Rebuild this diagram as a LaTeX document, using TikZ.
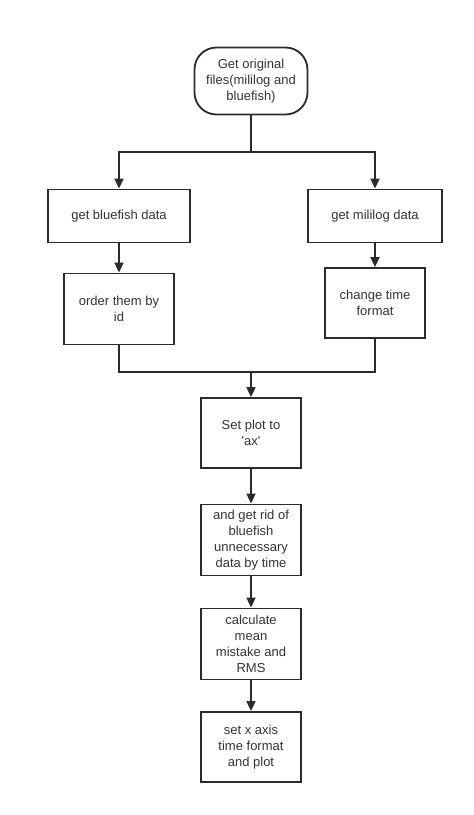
\documentclass[tikz,border=0pt]{standalone}
\usepackage{fontspec}
\setmainfont{Liberation Sans}
\usetikzlibrary{arrows.meta}

\tikzset{
  box/.style={rectangle,draw=linegray,line width=1.8pt,align=center,inner sep=2pt,
    font=\fontsize{13}{16}\selectfont,text=textgray},
  startbox/.style={box,rounded corners=22pt},
  line/.style={draw=linegray,line width=1.8pt},
  arr/.style={line,-{Triangle[length=10pt,width=9pt]}}
}
\definecolor{linegray}{HTML}{2B2B2B}
\definecolor{textgray}{HTML}{333333}

\begin{document}
\begin{tikzpicture}[x=1pt,y=-1pt]
        \useasboundingbox (0,0) rectangle (474,815);

        \node[startbox,minimum width=113pt,minimum height=67pt] (start) at (251,81) {Get original\\files(mililog and\\bluefish)};
        \node[box,minimum width=142pt,minimum height=53pt] (blue) at (119,216) {get bluefish data};
        \node[box,minimum width=134pt,minimum height=53pt] (mili) at (375,216) {get mililog data};
        \node[box,minimum width=110pt,minimum height=71pt] (order) at (119,309) {order them by\\id};
        \node[box,minimum width=100pt,minimum height=70pt] (change) at (375,303) {change time\\format};
        \node[box,minimum width=100pt,minimum height=70pt] (plot) at (251,433) {Set plot to\\\textquotesingle ax\textquotesingle};
        \node[box,minimum width=100pt,minimum height=71pt] (rid) at (251,540) {and get rid of\\bluefish\\unnecessary\\data by time};
        \node[box,minimum width=100pt,minimum height=71pt] (calc) at (251,644) {calculate\\mean\\mistake and\\RMS};
        \node[box,minimum width=100pt,minimum height=70pt] (axis) at (251,747) {set x axis\\time format\\and plot};

        \coordinate (split) at (251,152);
        \coordinate (merge) at (251,372);

        \draw[line] (start) -- (split);
        \draw[arr] (split) -| (blue);
        \draw[arr] (split) -| (mili);
        \draw[arr] (blue) -- (order);
        \draw[arr] (mili) -- (change);
        \draw[line] (order.south) |- (merge);
        \draw[line] (change.south) |- (merge);
        \draw[arr] (merge) -- (plot);
        \draw[arr] (plot) -- (rid);
        \draw[arr] (rid) -- (calc);
        \draw[arr] (calc) -- (axis);
      \end{tikzpicture}
\end{document}
